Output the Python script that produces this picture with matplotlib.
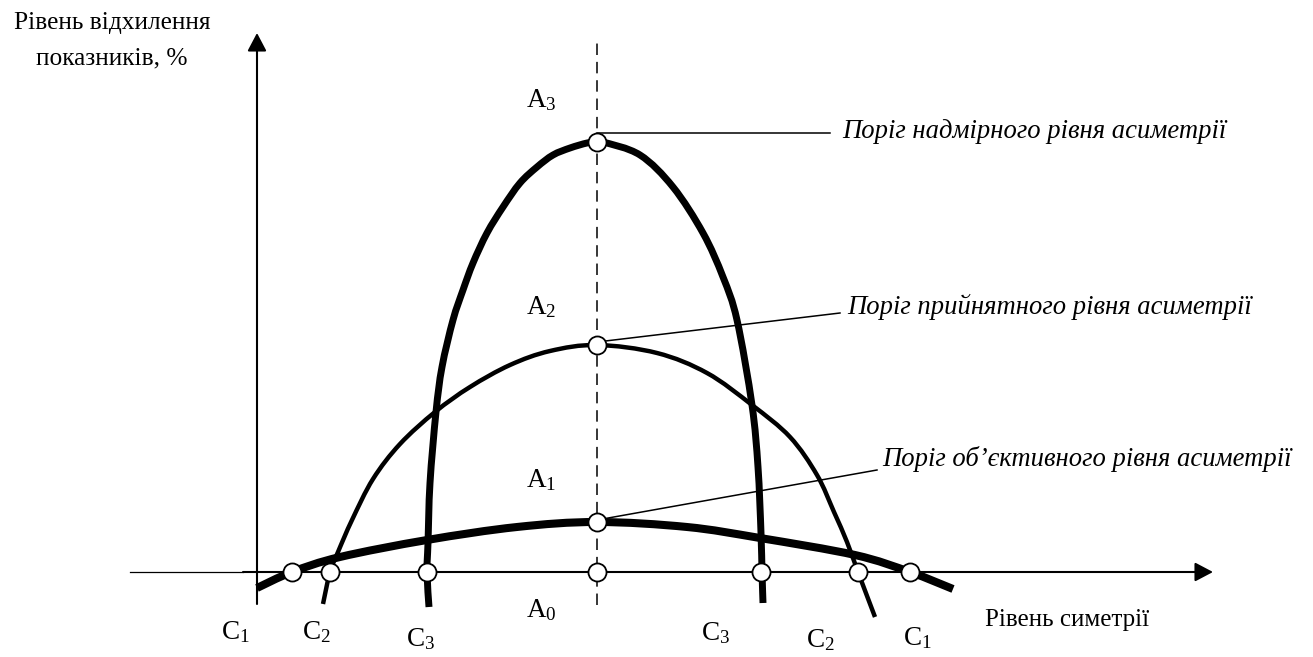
import matplotlib
matplotlib.use("Agg")
import matplotlib.pyplot as plt
from matplotlib.path import Path
from matplotlib.patches import PathPatch

plt.rcParams['font.family'] = ['Liberation Serif', 'DejaVu Serif']
plt.rcParams['mathtext.fontset'] = 'custom'
plt.rcParams['mathtext.rm'] = 'Liberation Serif'
plt.rcParams['mathtext.it'] = 'Liberation Serif:italic'

# curve points (origin = axes crossing)
krivaya_1_x = [0, 35, 83, 170, 260, 340, 430, 503, 598, 653, 696]
krivaya_1_y = [-16, 0, 15, 32, 45, 50, 45, 34, 17, 0, -17]

krivaya_2_x = [66, 73, 81, 95, 116, 143, 178, 213, 253, 293, 340,
               400, 450, 495, 533, 560, 577, 590, 601, 618]
krivaya_2_y = [-32, 0, 20, 52, 93, 128, 160, 185, 207, 221, 227,
               219, 199, 167, 135, 97, 60, 30, 0, -45]

krivaya_3_x = [172, 170, 171, 173, 179, 185, 196, 206, 216, 230, 246, 263, 280,
               296, 313, 330, 340, 346, 383, 416, 446, 466, 480, 495, 501, 504, 505, 506]
krivaya_3_y = [-35, 0, 29, 89, 160, 205, 252, 282, 309, 339, 365, 389, 405,
               417, 424, 429, 430, 430, 417, 385, 339, 295, 252, 167, 105, 39, 0, -31]

# tochki (circles)
kesisim_x = [35, 73, 170, 340, 504, 601, 653, 340, 340, 340]
kesisim_y = [0, 0, 0, 0, 0, 0, 0, 50, 227, 430]

simetri_x = 340
a_etiketleri = [r'$\mathrm{A}_3$', r'$\mathrm{A}_2$', r'$\mathrm{A}_1$', r'$\mathrm{A}_0$']
a_y = [472, 265, 92, -38]

c_etiketleri = [r'$\mathrm{C}_1$', r'$\mathrm{C}_2$', r'$\mathrm{C}_3$',
                r'$\mathrm{C}_3$', r'$\mathrm{C}_2$', r'$\mathrm{C}_1$']
c_x = [-22, 59, 164, 459, 563, 660]
c_y = [-60, -60, -67, -61, -68, -66]

porog_metinleri = ["Поріг надмірного рівня асиметрії",
                   "Поріг прийнятного рівня асиметрії",
                   "Поріг об’єктивного рівня асиметрії"]
porog_x0 = [340, 340, 340]
porog_y0 = [439, 230, 52]
porog_x1 = [573, 583, 620]
porog_y1 = [439, 259, 102]
porog_text_x = [585, 590, 625]
porog_text_y = [440, 265, 113]


def gladkaya_liniya(ax, xs, ys, lw):
    # catmull-rom -> bezier, just for drawing the path smooth
    pts = list(zip(xs, ys))
    verts = [pts[0]]
    codes = [Path.MOVETO]
    for i in range(len(pts) - 1):
        p0 = pts[i - 1] if i > 0 else pts[i]
        p1 = pts[i]
        p2 = pts[i + 1]
        p3 = pts[i + 2] if i + 2 < len(pts) else pts[i + 1]
        c1 = (p1[0] + (p2[0] - p0[0]) / 6, p1[1] + (p2[1] - p0[1]) / 6)
        c2 = (p2[0] - (p3[0] - p1[0]) / 6, p2[1] - (p3[1] - p1[1]) / 6)
        verts += [c1, c2, p2]
        codes += [Path.CURVE4] * 3
    ax.add_patch(PathPatch(Path(verts, codes), fill=False, lw=lw,
                           edgecolor='black', capstyle='butt', joinstyle='round', zorder=3))


fig = plt.figure(figsize=(13.13, 6.57), dpi=100)
ax = fig.add_axes([0, 0, 1, 1])
ax.set_xlim(-257, 1056)
ax.set_ylim(-85, 572)
ax.axis('off')

# axes with arrows
strelka = dict(arrowstyle='-|>,head_length=0.55,head_width=0.29', mutation_scale=20,
               color='black', lw=1.5, shrinkA=0, shrinkB=0)
ax.annotate('', xy=(0, 539), xytext=(0, -32), arrowprops=strelka)
ax.annotate('', xy=(956, 0), xytext=(-14, 0), arrowprops=strelka)
ax.plot([-127, -14], [0, 0], color='black', lw=0.9)

# dashed symmetry line
ax.plot([simetri_x, simetri_x], [-33, 532], color='black', lw=1.1,
        dashes=(7.5, 4.5), zorder=2)

gladkaya_liniya(ax, krivaya_1_x, krivaya_1_y, 5.8)
gladkaya_liniya(ax, krivaya_2_x, krivaya_2_y, 3.2)
gladkaya_liniya(ax, krivaya_3_x, krivaya_3_y, 5.0)

for i in range(len(porog_metinleri)):
    ax.plot([porog_x0[i], porog_x1[i]], [porog_y0[i], porog_y1[i]], color='black', lw=1.1, zorder=2)
    ax.text(porog_text_x[i], porog_text_y[i], porog_metinleri[i], fontsize=19.2,
            style='italic', ha='left', va='center')

ax.plot(kesisim_x, kesisim_y, 'o', ms=13, mfc='white', mec='black', mew=1.3,
        linestyle='none', zorder=5)

for lab, y in zip(a_etiketleri, a_y):
    ax.text(284, y, lab, fontsize=19.5, ha='center', va='center')
for lab, x, y in zip(c_etiketleri, c_x, c_y):
    ax.text(x, y, lab, fontsize=19.5, ha='center', va='center')

ax.text(-145, 549, "Рівень відхилення", fontsize=18.3, ha='center', va='center')
ax.text(-145, 514, "показників, %", fontsize=18.3, ha='center', va='center')
ax.text(728, -48, "Рівень симетрії", fontsize=18, ha='left', va='center')

plt.savefig('out.png', dpi=100)
